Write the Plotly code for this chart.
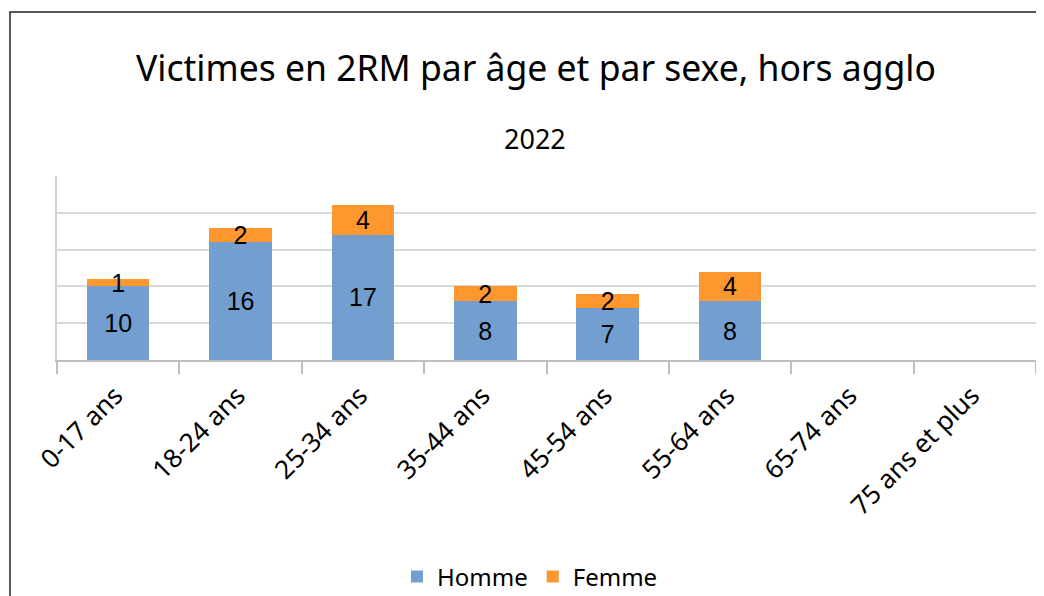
import plotly.graph_objects as go

categories = ["0-17 ans", "18-24 ans", "25-34 ans", "35-44 ans", "45-54 ans",
              "55-64 ans", "65-74 ans", "75 ans et plus"]
homme = [10, 16, 17, 8, 7, 8, None, None]
femme = [1, 2, 4, 2, 2, 4, None, None]

# page body has an 8px default margin: size the figure to fill the rest
OFF = 8
W, H = 1044 - OFF, 596 - OFF
L, T = 57 - OFF, 176 - OFF
R = W - (1036 - OFF)
B = H - (360 - OFF)
pw, ph = W - L - R, H - T - B


def py(page_y):
    """page pixel y -> paper coordinate"""
    return ((360 - OFF) - (page_y - OFF)) / ph


def px(page_x):
    return ((page_x - OFF) - L) / pw


label_font = dict(family="Liberation Sans", size=25, color="black")

fig = go.Figure()
fig.add_trace(go.Bar(
    x=categories, y=homme, name="Homme", marker_color="#729fcf",
    marker_line_width=0,
    text=homme, textposition="inside", insidetextanchor="middle",
    constraintext="none", textangle=0, textfont=label_font,
))
fig.add_trace(go.Bar(
    x=categories, y=femme, name="Femme", marker_color="#ff972f",
    marker_line_width=0,
    text=femme, textposition="inside", insidetextanchor="middle",
    constraintext="none", textangle=0, textfont=label_font,
))

fig.update_layout(
    barmode="stack", bargap=0.49,
    width=W, height=H,
    margin=dict(l=L, r=R, t=T, b=B, pad=0, autoexpand=False),
    paper_bgcolor="white", plot_bgcolor="white",
    title=dict(text="Victimes en 2RM par âge et par sexe, hors agglo",
               x=(536 - OFF) / W, xanchor="center", y=1 - (69 - OFF) / H, yanchor="middle",
               font=dict(family="Noto Sans", size=35.5, color="black")),
    legend=dict(orientation="h", x=px(530), xanchor="center", y=py(577),
                yanchor="middle", font=dict(family="Noto Sans", size=24, color="black"),
                traceorder="normal", itemwidth=30),
    annotations=[dict(text="2022", x=px(535), xref="paper", xanchor="center",
                      y=py(138), yref="paper", yanchor="middle",
                      showarrow=False, font=dict(family="Noto Sans", size=27, color="black"))],
    shapes=[dict(type="rect", xref="paper", yref="paper",
                 x0=px(10), x1=px(1070), y0=py(640), y1=py(12),
                 line=dict(color="#222222", width=1.5), layer="below")],
)
fig.update_xaxes(
    showline=True, linecolor="#bfbfbf", linewidth=2,
    ticks="outside", tickson="boundaries", ticklen=12, tickcolor="#bfbfbf", tickwidth=2,
    tickangle=-45, tickfont=dict(family="Noto Sans", size=26, color="black"),
    ticklabelshift=-3, ticklabelstandoff=8,
    showgrid=False, automargin=False,
)
fig.update_yaxes(
    range=[0, 25], dtick=5, showticklabels=False,
    showgrid=True, gridcolor="#d9d9d9", gridwidth=1.5,
    showline=True, linecolor="#d0d0d0", linewidth=1.5, mirror=True,
    zeroline=False, automargin=False,
)

fig.write_html("out.html")
